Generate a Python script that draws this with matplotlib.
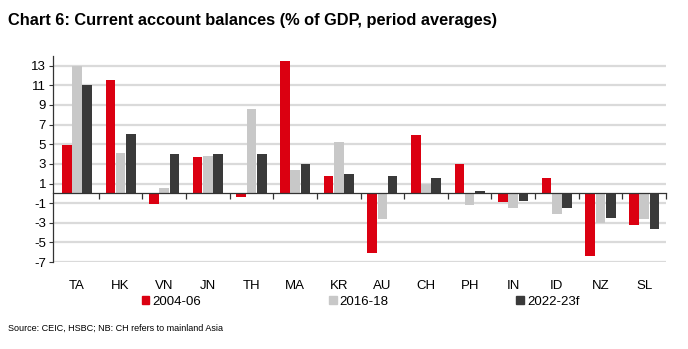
import numpy as np
import matplotlib.pyplot as plt
from matplotlib.patches import Patch
import matplotlib.transforms as mtransforms

plt.rcParams['font.family'] = ['Liberation Sans', 'DejaVu Sans']

countries = ['TA', 'HK', 'VN', 'JN', 'TH', 'MA', 'KR', 'AU', 'CH', 'PH', 'IN', 'ID', 'NZ', 'SL']
p2004 = [4.9, 11.5, -1.1, 3.7, -0.4, 13.5, 1.8, -6.1, 5.9, 3.0, -0.9, 1.6, -6.4, -3.2]
p2016 = [13.0, 4.1, 0.5, 3.8, 8.6, 2.4, 5.2, -2.6, 1.0, -1.2, -1.5, -2.1, -3.0, -2.6]
p2022 = [11.0, 6.0, 4.0, 4.0, 4.0, 3.0, 2.0, 1.8, 1.6, 0.2, -0.8, -1.5, -2.5, -3.6]
series_names = ['2004-06', '2016-18', '2022-23f']
colors = ['#DB0011', '#C8C8C8', '#3A3A3A']
yticks = [13, 11, 9, 7, 5, 3, 1, -1, -3, -5, -7]

fig = plt.figure(figsize=(6.88, 3.49), dpi=100)
ax = fig.add_axes([0.077, 0.249, 0.891, 0.591])

x = np.arange(len(countries))
w = 0.22
gap = 0.235
for k, vals in enumerate([p2004, p2016, p2022]):
    ax.bar(x + (k - 1) * gap, vals, width=w, color=colors[k], zorder=3)

ax.set_xlim(-0.55, 13.5)
ax.set_ylim(-7, 14)
ax.set_yticks(yticks)
ax.set_yticklabels([str(t) for t in yticks], fontsize=9.5)
ax.tick_params(axis='y', length=3, width=0.8, color='#333333', pad=2)
for t in yticks:
    ax.axhline(t, color='#DADADA', linewidth=1.6, zorder=1)

for s in ['top', 'right']:
    ax.spines[s].set_visible(False)
ax.spines['left'].set_color('#333333')
ax.spines['left'].set_linewidth(0.9)
ax.spines['bottom'].set_position(('data', 0))
ax.spines['bottom'].set_color('#333333')
ax.spines['bottom'].set_linewidth(0.9)
ax.spines['bottom'].set_zorder(4)
ax.set_xticks(x + 0.5)
ax.set_xticklabels([])
ax.tick_params(axis='x', length=4, width=0.9, color='#333333', direction='out')

trans = mtransforms.blended_transform_factory(ax.transData, ax.transAxes)
for i, c in enumerate(countries):
    ax.text(i, -0.115, c, transform=trans, ha='center', va='center', fontsize=9.5)

handles = [Patch(color=colors[k], label=series_names[k]) for k in range(3)]
fig.legend(handles=handles, loc='center left', bbox_to_anchor=(0.198, 0.135),
           ncol=3, frameon=False, fontsize=9.5, handlelength=0.6, handleheight=0.6,
           handletextpad=0.2, columnspacing=9.7, borderaxespad=0)

fig.text(0.012, 0.94, 'Chart 6: Current account balances (% of GDP, period averages)',
         fontsize=11.8, fontweight='bold', va='center')
fig.text(0.012, 0.06, 'Source: CEIC, HSBC; NB: CH refers to mainland Asia',
         fontsize=6.5, va='center')

fig.savefig('out.png', dpi=100)
